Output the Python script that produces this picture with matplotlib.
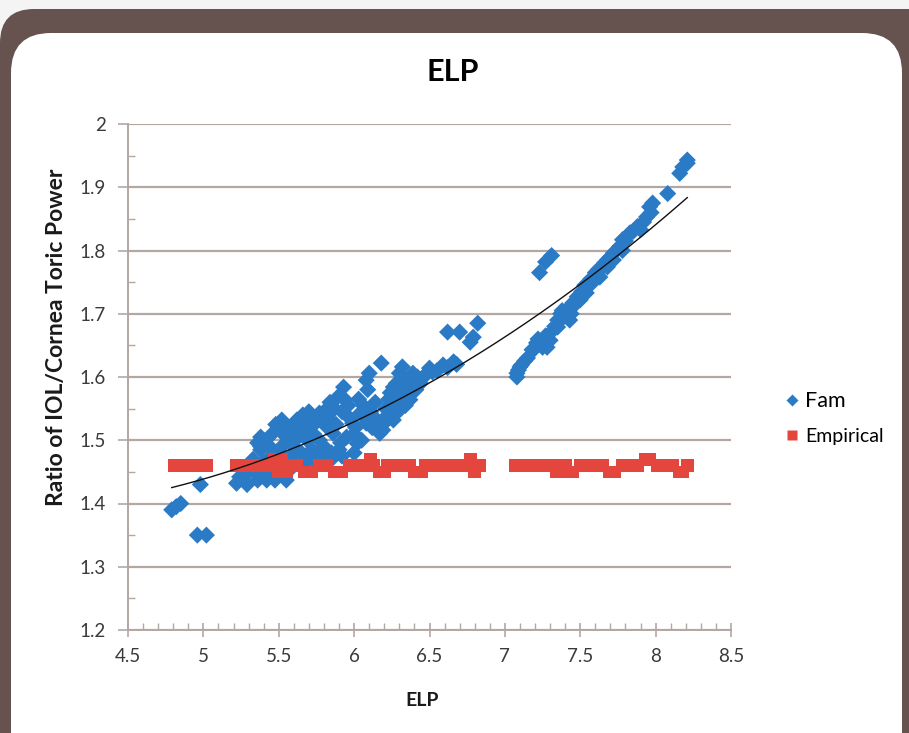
import numpy as np
import matplotlib
matplotlib.use("Agg")
import matplotlib.pyplot as plt
from matplotlib.patches import FancyBboxPatch
from matplotlib.transforms import IdentityTransform
from matplotlib.lines import Line2D
from matplotlib.ticker import MultipleLocator

plt.rcParams['font.family'] = ['Lato', 'DejaVu Sans']

# Fam series: ELP vs ratio of IOL/cornea toric power
fam_x = [4.79, 4.82, 4.85, 4.96, 5.02, 4.98,
         5.22, 5.24, 5.26, 5.29, 5.29, 5.36, 5.36, 5.38, 5.42, 5.44, 5.46, 5.475, 5.55,
         5.36, 5.38, 5.38, 5.38, 5.44, 5.46, 5.51, 5.53, 5.52, 5.55, 5.60, 5.60,
         5.62, 5.62, 5.69, 5.69, 5.73, 5.75, 5.77, 5.77, 5.82, 5.84, 5.86, 5.89,
         5.91, 5.93, 5.94, 5.99, 6.04, 6.08, 6.08, 6.09, 6.10, 6.13, 6.17, 6.18,
         6.19, 6.19, 6.22, 6.24, 6.24, 6.26, 6.26, 6.28, 6.28, 6.30, 6.30, 6.32,
         6.32, 6.32, 6.35, 6.37, 6.37, 6.39, 6.39, 6.44, 6.46, 6.50, 6.52, 6.59,
         6.62, 6.66, 6.70, 6.77, 6.79, 6.82,
         5.50, 5.58, 5.65, 5.72, 5.80, 5.85, 5.90, 5.95, 6.00, 6.02, 6.05, 6.12,
         5.48, 5.56, 5.64, 5.70, 5.78,
         5.33, 5.40, 5.45, 5.52, 5.57, 5.63, 5.66, 5.71, 5.74, 5.79, 5.80, 5.83,
         5.88, 5.87, 5.92, 5.96, 5.97, 6.01, 6.03, 6.06, 6.11, 6.14, 6.15,
         6.21, 6.23, 6.27, 6.29, 6.33, 6.34, 6.36, 6.41, 6.42, 6.48, 6.55, 6.62,
         6.68, 5.58, 5.65, 5.75, 5.85, 5.92, 6.00, 5.40, 5.48, 5.57, 5.66, 5.70,
         7.08, 7.08, 7.09, 7.10, 7.11, 7.18, 7.19, 7.21, 7.25, 7.25, 7.28, 7.30,
         7.32, 7.35, 7.35, 7.37, 7.39, 7.41, 7.41, 7.43, 7.45, 7.45, 7.48, 7.50,
         7.52, 7.54, 7.54, 7.56, 7.58, 7.61, 7.63, 7.65, 7.68, 7.68, 7.72, 7.72,
         7.76, 7.78, 7.78, 7.83, 7.88, 7.90, 7.94, 7.96, 7.98, 8.08, 8.16, 8.18,
         8.21, 8.21, 7.23, 7.27, 7.31,
         7.13, 7.15, 7.22, 7.27, 7.33, 7.38, 7.44, 7.47, 7.51, 7.53, 7.57, 7.60,
         7.62, 7.66, 7.70, 7.74, 7.80, 7.85, 7.92, 7.97]
fam_y = [1.390, 1.395, 1.400, 1.350, 1.350, 1.430,
         1.432, 1.442, 1.440, 1.430, 1.448, 1.437, 1.445, 1.442, 1.437, 1.448, 1.442, 1.437, 1.437,
         1.496, 1.505, 1.485, 1.490, 1.490, 1.511, 1.516, 1.513, 1.532, 1.505, 1.490, 1.505,
         1.527, 1.532, 1.500, 1.527, 1.510, 1.529, 1.543, 1.500, 1.521, 1.560, 1.511, 1.568,
         1.496, 1.584, 1.564, 1.527, 1.543, 1.527, 1.595, 1.580, 1.606, 1.537, 1.511, 1.622,
         1.516, 1.532, 1.532, 1.548, 1.575, 1.584, 1.532, 1.553, 1.590, 1.559, 1.606, 1.600,
         1.616, 1.584, 1.590, 1.564, 1.575, 1.606, 1.592, 1.590, 1.600, 1.614, 1.608, 1.619,
         1.671, 1.624, 1.671, 1.655, 1.663, 1.685,
         1.480, 1.475, 1.480, 1.485, 1.490, 1.480, 1.485, 1.505, 1.510, 1.495, 1.500, 1.520,
         1.470, 1.468, 1.472, 1.470, 1.475,
         1.470, 1.465, 1.475, 1.490, 1.500, 1.505, 1.515, 1.520, 1.535, 1.530, 1.545, 1.535,
         1.525, 1.550, 1.545, 1.555, 1.535, 1.520, 1.565, 1.555, 1.545, 1.560, 1.525,
         1.550, 1.565, 1.570, 1.545, 1.570, 1.555, 1.595, 1.580, 1.600, 1.605, 1.610, 1.615,
         1.620, 1.455, 1.460, 1.465, 1.470, 1.475, 1.480, 1.500, 1.525, 1.520, 1.540, 1.545,
         1.600, 1.606, 1.611, 1.616, 1.619, 1.643, 1.643, 1.654, 1.658, 1.647, 1.647, 1.658,
         1.674, 1.690, 1.679, 1.700, 1.695, 1.706, 1.695, 1.690, 1.717, 1.711, 1.727, 1.722,
         1.733, 1.742, 1.733, 1.750, 1.749, 1.758, 1.758, 1.774, 1.785, 1.774, 1.796, 1.785,
         1.806, 1.817, 1.800, 1.828, 1.838, 1.833, 1.853, 1.869, 1.875, 1.890, 1.922, 1.932,
         1.938, 1.943, 1.765, 1.782, 1.792,
         1.625, 1.630, 1.660, 1.665, 1.680, 1.705, 1.700, 1.720, 1.735, 1.745, 1.755, 1.765,
         1.770, 1.780, 1.790, 1.800, 1.815, 1.830, 1.845, 1.860]

# Empirical series
emp_x = [4.81, 4.86, 4.91, 4.96, 5.02,
         5.22, 5.27, 5.32, 5.37, 5.42, 5.47, 5.50, 5.52, 5.55, 5.57, 5.62, 5.67, 5.72,
         5.77, 5.82, 5.87, 5.92, 5.97, 6.02, 6.07, 6.11, 6.13, 6.17, 6.20, 6.22, 6.27,
         6.32, 6.37, 6.40, 6.45, 6.47, 6.52, 6.57, 6.62, 6.67, 6.72, 6.77, 6.80, 6.835,
         7.07, 7.12, 7.17, 7.22, 7.27, 7.32, 7.34, 7.37, 7.40, 7.45, 7.50, 7.55, 7.60,
         7.65, 7.69, 7.73, 7.78, 7.83, 7.88, 7.93, 7.96, 8.01, 8.06, 8.11, 8.16, 8.18,
         8.21]
emp_y = [1.46, 1.46, 1.46, 1.46, 1.46,
         1.46, 1.46, 1.46, 1.46, 1.46, 1.47, 1.45, 1.47, 1.45, 1.46, 1.46, 1.45, 1.45,
         1.46, 1.46, 1.45, 1.45, 1.46, 1.46, 1.46, 1.47, 1.46, 1.45, 1.45, 1.46, 1.46,
         1.46, 1.46, 1.45, 1.45, 1.46, 1.46, 1.46, 1.46, 1.46, 1.46, 1.47, 1.45, 1.46,
         1.46, 1.46, 1.46, 1.46, 1.46, 1.46, 1.45, 1.45, 1.46, 1.45, 1.46, 1.46, 1.46,
         1.46, 1.45, 1.45, 1.46, 1.46, 1.46, 1.47, 1.47, 1.46, 1.46, 1.46, 1.45, 1.45,
         1.46]

x_ticks = [4.5, 5, 5.5, 6, 6.5, 7, 7.5, 8, 8.5]
x_tick_labels = ['4.5', '5', '5.5', '6', '6.5', '7', '7.5', '8', '8.5']
y_ticks = [1.2, 1.3, 1.4, 1.5, 1.6, 1.7, 1.8, 1.9, 2.0]
y_tick_labels = ['1.2', '1.3', '1.4', '1.5', '1.6', '1.7', '1.8', '1.9', '2']

BLUE = '#2a7ac6'
RED = '#e4463d'
BROWN = '#66524f'
GRID = '#b3a7a3'
TICKTXT = '#3a3a3a'

W, H = 909, 733
fig = plt.figure(figsize=(W / 100, H / 100), dpi=100)
fig.patch.set_facecolor('#f4f4f4')

# framed card: brown border with a white rounded panel inside
frame = FancyBboxPatch((0, -60), 960, H - 9 + 60,
                       boxstyle="round,pad=0,rounding_size=34",
                       transform=IdentityTransform(), facecolor=BROWN,
                       edgecolor='none', zorder=-20)
panel = FancyBboxPatch((11, -60), 902 - 11, H - 33 + 60,
                       boxstyle="round,pad=0,rounding_size=40",
                       transform=IdentityTransform(), facecolor='white',
                       edgecolor='none', zorder=-19)
fig.patches.extend([frame, panel])

ax = fig.add_axes([128 / W, 1 - 630 / H, (731 - 128) / W, (630 - 124) / H])
ax.set_facecolor('none')
ax.set_xlim(4.5, 8.5)
ax.set_ylim(1.2, 2.0)

ax.set_yticks(y_ticks)
ax.set_yticklabels(y_tick_labels)
ax.set_xticks(x_ticks)
ax.set_xticklabels(x_tick_labels)
ax.xaxis.set_minor_locator(MultipleLocator(0.1))
ax.yaxis.set_minor_locator(MultipleLocator(0.05))

ax.grid(axis='y', which='major', color=GRID, linewidth=1.6, zorder=0)
ax.set_axisbelow(True)
for s in ['top', 'right']:
    ax.spines[s].set_visible(False)
for s in ['left', 'bottom']:
    ax.spines[s].set_color(GRID)
    ax.spines[s].set_linewidth(1.4)

ax.tick_params(axis='x', which='major', direction='inout', length=10, width=1.2,
               color=GRID, labelsize=13.5, labelcolor=TICKTXT, pad=8)
ax.tick_params(axis='x', which='minor', direction='in', length=5, width=1.0, color=GRID)
ax.tick_params(axis='y', which='major', direction='out', length=7, width=1.2,
               color=GRID, labelsize=13.5, labelcolor=TICKTXT, pad=9)
ax.tick_params(axis='y', which='minor', direction='in', length=5, width=1.0, color=GRID)

# markers
ax.scatter(fam_x, fam_y, marker='D', s=76, color=BLUE, edgecolors='none',
           zorder=3, label='Fam')
ax.scatter(emp_x, emp_y, marker='s', s=84, color=RED, edgecolors='none',
           zorder=4, label='Empirical')

# second-order polynomial trend line on the Fam series
coef = np.polyfit(fam_x, fam_y, 2)
xs = np.linspace(min(fam_x), max(fam_x), 200)
ax.plot(xs, np.polyval(coef, xs), color='#111111', linewidth=1.0, zorder=5)

# titles and axis labels
fig.text(453 / W, 1 - 72 / H, 'ELP', fontsize=22, fontweight='bold',
         ha='center', va='center', color='black')
fig.text(422 / W, 1 - 700 / H, 'ELP', fontsize=14, fontweight='bold',
         ha='center', va='center', color='#1a1a1a')
fig.text(57 / W, 1 - 337 / H, 'Ratio of IOL/Cornea Toric Power', fontsize=16.5,
         fontweight='bold', rotation=90, ha='center', va='center', color='#1a1a1a')

handles = [Line2D([], [], marker='D', linestyle='none', markersize=6,
                  markerfacecolor=BLUE, markeredgecolor='none'),
           Line2D([], [], marker='s', linestyle='none', markersize=7.5,
                  markerfacecolor=RED, markeredgecolor='none')]
leg = fig.legend(handles, ['Fam', 'Empirical'], loc='center left',
                 bbox_to_anchor=(774 / W, 1 - 418 / H), frameon=False,
                 handlelength=0.8, handletextpad=0.3, labelspacing=0.9,
                 borderpad=0, fontsize=14)
leg.get_texts()[0].set_fontsize(15.5)

fig.savefig('out.png', dpi=100, facecolor=fig.get_facecolor())
